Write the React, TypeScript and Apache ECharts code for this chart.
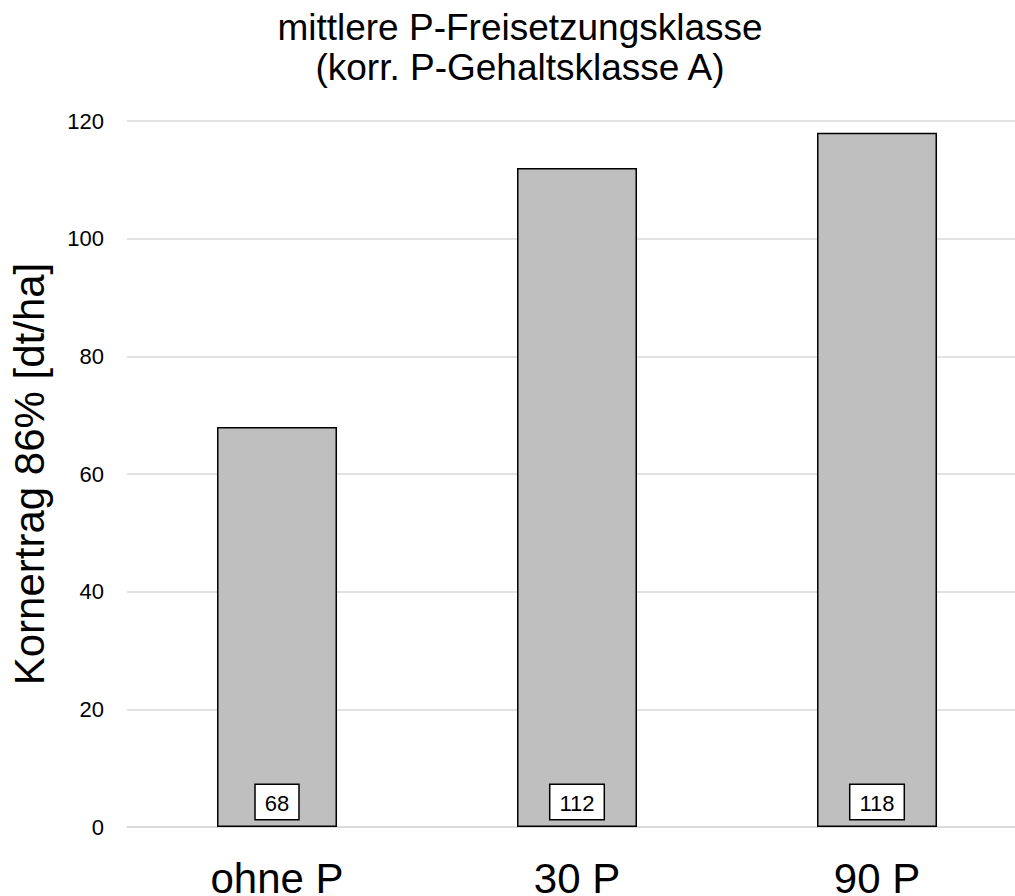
import React, { useEffect, useRef } from "react";
import * as echarts from "echarts";

const categories = ["ohne P", "30 P", "90 P"];
const yields = [68, 112, 118];
const titleLines = ["mittlere P-Freisetzungsklasse", "(korr. P-Gehaltsklasse A)"];
const yAxisName = "Kornertrag 86% [dt/ha]";

const FONT = "'Liberation Sans', Arial, sans-serif";

export default function App() {
  const ref = useRef<HTMLDivElement>(null);
  useEffect(() => {
    if (!ref.current) return;
    const chart = echarts.init(ref.current, undefined, { renderer: "svg" });
    chart.setOption({
      animation: false,
      backgroundColor: "#ffffff",
      title: {
        text: titleLines.join("\n"),
        left: 515,
        top: 2,
        textAlign: "center",
        textStyle: {
          fontFamily: FONT,
          fontSize: 37,
          fontWeight: "normal",
          color: "#000",
          lineHeight: 40,
        },
      },
      grid: {
        left: 127,
        top: 121,
        width: 900,
        height: 706,
        containLabel: false,
        outerBoundsMode: "none",
      },
      xAxis: {
        type: "category",
        data: categories,
        axisLine: { show: true, lineStyle: { color: "#d9d9d9", width: 1.5 } },
        axisTick: { show: false },
        axisLabel: {
          fontFamily: FONT,
          fontSize: 42,
          lineHeight: 32,
          color: "#000",
          margin: 35,
        },
      },
      yAxis: {
        type: "value",
        min: 0,
        max: 120,
        interval: 20,
        name: yAxisName,
        nameLocation: "middle",
        nameGap: 77,
        nameTextStyle: { fontFamily: FONT, fontSize: 42, color: "#000" },
        axisLine: { show: false },
        axisTick: { show: false },
        axisLabel: { fontFamily: FONT, fontSize: 22, color: "#000", margin: 23 },
        splitLine: { show: true, lineStyle: { color: "#d9d9d9", width: 1.5 } },
      },
      series: [
        {
          type: "bar",
          data: yields,
          barWidth: 120,
          itemStyle: { color: "#bfbfbf", borderColor: "#000", borderWidth: 1.5 },
          label: {
            show: true,
            position: "insideBottom",
            distance: 8,
            fontFamily: FONT,
            fontSize: 22,
            color: "#000",
            backgroundColor: "#fff",
            borderColor: "#000",
            borderWidth: 1.5,
            padding: [7, 9, 5, 9],
          },
        },
      ],
    });
    return () => chart.dispose();
  }, []);
  return (
    <div
      ref={ref}
      style={{ position: "absolute", left: 0, top: 0, width: 1015, height: 896 }}
    />
  );
}
